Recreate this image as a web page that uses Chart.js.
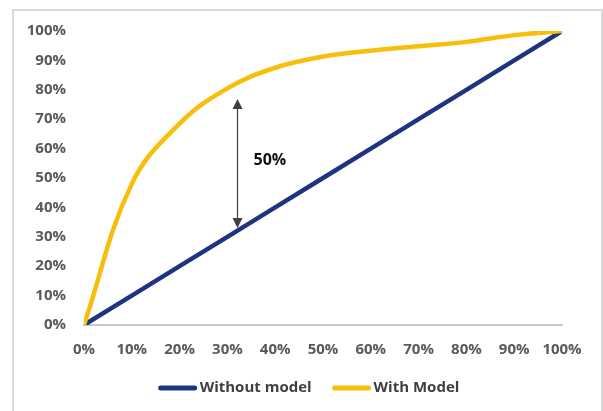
<!DOCTYPE html>
<html>
<head>
<meta charset="utf-8">
<script src="https://cdn.jsdelivr.net/npm/chart.js@4.4.1/dist/chart.umd.min.js"></script>
<style>
  html, body { margin: 0; padding: 0; background: #ffffff; }
  #frame {
    position: absolute; left: 12px; top: 9px; width: 591px; height: 420px;
    box-sizing: border-box; border: 2px solid #d9d9d9;
  }
  #wrap { position: absolute; left: 0; top: 0; width: 603px; height: 411px; }
</style>
</head>
<body>
<div id="frame"></div>
<div id="wrap"><canvas id="chart" width="603" height="411"></canvas></div>
<script>
// Share of population targeted (x) and share of positives captured (y), in percent
const populationPct = [0, 10, 20, 30, 40, 50, 60, 70, 80, 90, 100];
const withoutModel  = [0, 10, 20, 30, 40, 50, 60, 70, 80, 90, 100];
const withModel     = [0, 48, 68.5, 80.5, 87.5, 91.3, 93.3, 94.8, 96.3, 98.6, 100];
const seriesNames   = ['Without model', 'With Model'];
const tickValues    = [0, 10, 20, 30, 40, 50, 60, 70, 80, 90, 100];

// Lift callout: gap between the two curves at a given population share
const liftAt    = 32;   // population share where the gap is marked
const liftBase  = 32;   // random-selection value at that point
const liftGap   = 50;   // gap in percentage points
const liftLabel = '50%';

const BLUE = '#1f3480';
const GOLD = '#f7be0c';
const TICK_FONT = { family: '"Open Sans", sans-serif', size: 15, weight: '700' };

function points(xs, ys) { return xs.map((x, i) => ({ x: x, y: ys[i] })); }

// Double-headed arrow with the gap label beside it
const liftArrow = {
  id: 'liftArrow',
  afterDatasetsDraw(chart) {
    const { ctx, scales: { x, y } } = chart;
    const px = Math.round(x.getPixelForValue(liftAt)) + 0.5;
    const yLow = y.getPixelForValue(liftBase) - 3;
    const yHigh = y.getPixelForValue(liftBase + liftGap) + 15;
    const head = 10, half = 5;
    ctx.save();
    ctx.strokeStyle = '#404040';
    ctx.fillStyle = '#404040';
    ctx.lineWidth = 1.2;
    ctx.beginPath();
    ctx.moveTo(px, yHigh + head);
    ctx.lineTo(px, yLow - head);
    ctx.stroke();
    ctx.beginPath();
    ctx.moveTo(px, yHigh); ctx.lineTo(px - half, yHigh + head); ctx.lineTo(px + half, yHigh + head);
    ctx.closePath(); ctx.fill();
    ctx.beginPath();
    ctx.moveTo(px, yLow); ctx.lineTo(px - half, yLow - head); ctx.lineTo(px + half, yLow - head);
    ctx.closePath(); ctx.fill();
    ctx.font = '700 16px "Open Sans", sans-serif';
    ctx.fillStyle = '#111111';
    ctx.textAlign = 'left';
    ctx.textBaseline = 'middle';
    ctx.fillText(liftLabel, px + 16, (yHigh + yLow) / 2 - 3);
    ctx.restore();
  }
};

// Legend row: line swatch followed by the series name
const lineLegend = {
  id: 'lineLegend',
  afterDraw(chart) {
    const { ctx } = chart;
    const sw = 38, gapText = 3, gapItem = 21, cy = 388, center = 309;
    ctx.save();
    ctx.font = '700 15px "Open Sans", sans-serif';
    const items = chart.data.datasets.slice().sort((a, b) => a.legendIndex - b.legendIndex);
    const widths = items.map(d => sw + gapText + ctx.measureText(d.label).width);
    const total = widths.reduce((a, b) => a + b, 0) + gapItem * (items.length - 1);
    let cx = center - total / 2;
    items.forEach((d, i) => {
      ctx.strokeStyle = d.borderColor;
      ctx.lineWidth = 5;
      ctx.lineCap = 'round';
      ctx.beginPath();
      ctx.moveTo(cx + 2, cy);
      ctx.lineTo(cx + sw - 2, cy);
      ctx.stroke();
      ctx.fillStyle = '#404040';
      ctx.textAlign = 'left';
      ctx.textBaseline = 'middle';
      ctx.fillText(d.label, cx + sw + gapText, cy);
      cx += widths[i] + gapItem;
    });
    ctx.restore();
  }
};

new Chart(document.getElementById('chart'), {
  type: 'line',
  data: {
    datasets: [
      {
        label: seriesNames[0], legendIndex: 0, order: 1,
        data: points(populationPct, withoutModel),
        borderColor: BLUE, backgroundColor: BLUE,
        borderWidth: 4.5, pointRadius: 0, tension: 0, borderCapStyle: 'round'
      },
      {
        label: seriesNames[1], legendIndex: 1, order: 0,
        data: points(populationPct, withModel),
        borderColor: GOLD, backgroundColor: GOLD,
        borderWidth: 4.5, pointRadius: 0, tension: 0.4, borderCapStyle: 'round'
      }
    ]
  },
  options: {
    responsive: false,
    animation: false,
    layout: { padding: { left: 0, top: 31, right: 41, bottom: 46 } },
    plugins: { legend: { display: false }, tooltip: { enabled: false } },
    scales: {
      x: {
        type: 'linear', min: 0, max: 100,
        afterFit(s) { s.height = 40; },
        afterBuildTicks(s) { s.ticks = tickValues.map(v => ({ value: v })); },
        grid: { display: false, drawTicks: false },
        border: { display: true, color: '#c3c7d0', width: 2 },
        ticks: { padding: 16, color: '#595959', font: TICK_FONT, maxRotation: 0, autoSkip: false,
                 callback: v => v + '%' }
      },
      y: {
        type: 'linear', min: 0, max: 100,
        afterFit(s) { s.width = 84; },
        afterBuildTicks(s) { s.ticks = tickValues.map(v => ({ value: v })); },
        grid: { display: false, drawTicks: false },
        border: { display: false },
        ticks: { padding: 18, color: '#595959', font: TICK_FONT, autoSkip: false,
                 callback: v => v + '%' }
      }
    }
  },
  plugins: [liftArrow, lineLegend]
});
</script>
</body>
</html>
